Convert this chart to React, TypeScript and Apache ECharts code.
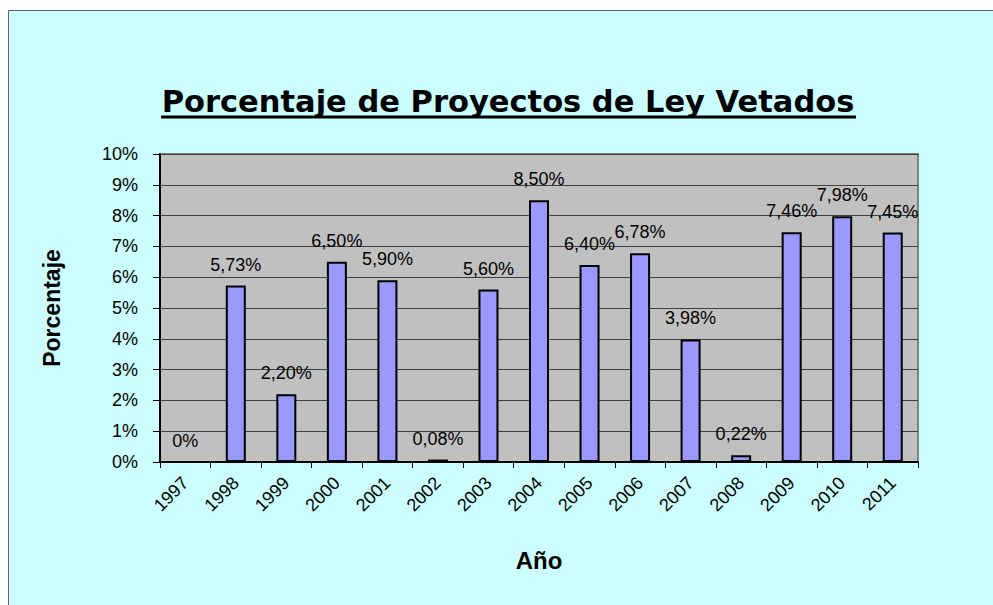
import React, { useEffect, useRef } from "react";
import * as echarts from "echarts";

const years = ["1997","1998","1999","2000","2001","2002","2003","2004","2005","2006","2007","2008","2009","2010","2011"];
const percentValues = [0, 5.73, 2.2, 6.5, 5.9, 0.08, 5.6, 8.5, 6.4, 6.78, 3.98, 0.22, 7.46, 7.98, 7.45];
const yTicks = { min: 0, max: 10, interval: 1 };
const titleText = "Porcentaje de Proyectos de Ley Vetados";
const yName = "Porcentaje";
const xName = "Año";

const fmt = (v: number) => (v === 0 ? "0%" : v.toFixed(2).replace(".", ",") + "%");

export default function App() {
  const ref = useRef<HTMLDivElement>(null);
  useEffect(() => {
    if (!ref.current) return;
    const chart = echarts.init(ref.current, null, { renderer: "svg" });
    chart.setOption({
      animation: false,
      backgroundColor: "#ffffff",
      title: {
        text: titleText,
        left: 503,
        top: 81,
        textAlign: "center",
        textStyle: { fontFamily: "DejaVu Sans", fontWeight: "bold", fontSize: 30.5, color: "#000" },
      },
      graphic: [
        {
          type: "rect",
          z: -10,
          shape: { x: 8.5, y: 10.5, width: 1000, height: 700 },
          style: { fill: "#CCFFFF", stroke: "#606060", lineWidth: 1 },
        },
        {
          type: "line",
          shape: { x1: 161, y1: 117, x2: 856, y2: 117 },
          style: { stroke: "#000", lineWidth: 3 },
        },
      ],
      grid: {
        left: 160,
        top: 154,
        width: 758,
        height: 308,
        show: true,
        backgroundColor: "#C0C0C0",
        borderColor: "#808080",
        borderWidth: 2,
      },
      xAxis: {
        type: "category",
        data: years,
        name: xName,
        nameLocation: "middle",
        nameGap: 86,
        nameTextStyle: { fontFamily: "Liberation Sans", fontWeight: "bold", fontSize: 24, color: "#000" },
        axisLine: { lineStyle: { color: "#000", width: 2 } },
        axisTick: { show: true, length: 6, lineStyle: { color: "#000" } },
        axisLabel: {
          rotate: 45,
          margin: 18,
          fontFamily: "Liberation Sans",
          fontSize: 18,
          color: "#000",
        },
      },
      yAxis: {
        type: "value",
        min: yTicks.min,
        max: yTicks.max,
        interval: yTicks.interval,
        name: yName,
        nameLocation: "middle",
        nameGap: 97,
        nameTextStyle: { fontFamily: "Liberation Sans", fontWeight: "bold", fontSize: 23, color: "#000" },
        axisLine: { show: true, lineStyle: { color: "#000", width: 2 } },
        axisTick: { show: true, length: 7, lineStyle: { color: "#000" } },
        axisLabel: {
          formatter: "{value}%",
          margin: 22,
          fontFamily: "Liberation Sans",
          fontSize: 18,
          color: "#000",
        },
        splitLine: { show: true, lineStyle: { color: "#404040", width: 1 } },
      },
      series: [
        {
          type: "bar",
          barWidth: 20,
          data: percentValues.map((v) =>
            v === 0 ? { value: v, itemStyle: { borderWidth: 0 } } : v
          ),
          itemStyle: { color: "#9999FF", borderColor: "#000", borderWidth: 2 },
          label: {
            show: true,
            position: "top",
            distance: 12,
            formatter: (p: any) => fmt(p.value),
            fontFamily: "Liberation Sans",
            fontSize: 18,
            color: "#000",
          },
        },
      ],
    });
    return () => chart.dispose();
  }, []);
  return (
    <div
      ref={ref}
      style={{ position: "fixed", left: 0, top: 0, width: 993, height: 605 }}
    />
  );
}
